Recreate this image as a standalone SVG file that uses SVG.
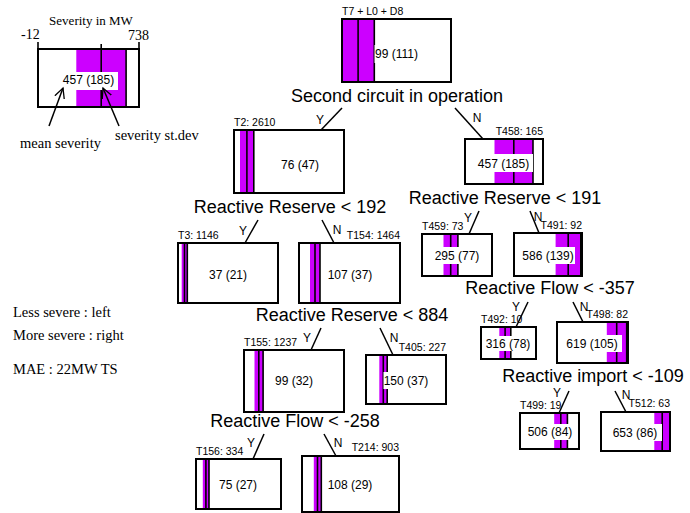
<svg xmlns="http://www.w3.org/2000/svg" width="690" height="513" viewBox="0 0 690 513">
<defs>
<style>
.box{fill:none;stroke:#000;stroke-width:2}
.band{fill:#cc00ff;stroke:none}
.ln{stroke:#000;stroke-width:1.6}
.lbl{fill:#fff;stroke:none}
.val{font-family:"Liberation Sans",Arial,sans-serif;font-size:12px;fill:#000;text-anchor:middle}
.tag{font-family:"Liberation Sans",Arial,sans-serif;font-size:10.5px;fill:#000}
.split{font-family:"Liberation Sans",Arial,sans-serif;font-size:18px;fill:#000;text-anchor:middle}
.yn{font-family:"Liberation Sans",Arial,sans-serif;font-size:12px;fill:#000;text-anchor:middle}
.ser{font-family:"Liberation Serif","Times New Roman",serif;fill:#000}
.conn{stroke:#000;stroke-width:1.5;fill:none}
</style>
<marker id="open" markerWidth="12" markerHeight="12" refX="10" refY="6" orient="auto" markerUnits="userSpaceOnUse">
<path d="M0,1 L10,6 L0,11" fill="none" stroke="#000" stroke-width="1.3"/>
</marker>
</defs>
<rect width="690" height="513" fill="#fff"/>

<g id="legend">
<text class="ser" x="91" y="25" font-size="13" text-anchor="middle">Severity in MW</text>
<text class="ser" x="21" y="39" font-size="14">-12</text>
<text class="ser" x="128" y="40" font-size="14">738</text>
<line class="ln" x1="38" y1="42" x2="38" y2="49"/>
<line class="ln" x1="139" y1="42" x2="139" y2="49"/>
<line class="ln" x1="101.2" y1="44" x2="101.2" y2="49"/>
<rect class="band" x="76.3" y="49" width="49.8" height="58"/>
<line class="ln" x1="101.2" y1="49" x2="101.2" y2="107"/>
<line class="ln" x1="126.1" y1="49" x2="126.1" y2="107"/>
<rect class="box" x="38" y="49" width="101" height="58"/>
<rect class="lbl" x="58" y="72" width="60" height="18"/>
<text class="val" x="88.5" y="84">457 (185)</text>
<line class="conn" x1="49" y1="126" x2="63" y2="88" marker-end="url(#open)"/>
<line class="conn" x1="119" y1="126" x2="103" y2="88" marker-end="url(#open)"/>
<text class="ser" x="20" y="148" font-size="14.5">mean severity</text>
<text class="ser" x="115" y="140" font-size="14.5">severity st.dev</text>
</g>

<g id="notes">
<text class="ser" x="13" y="317" font-size="14.5">Less severe : left</text>
<text class="ser" x="13" y="340" font-size="14.5">More severe : right</text>
<text class="ser" x="13" y="374" font-size="14.5">MAE : 22MW TS</text>
</g>

<g id="connectors">
<line class="conn" x1="342" y1="108" x2="321" y2="130"/>
<text class="yn" x="320" y="124">Y</text>
<line class="conn" x1="455" y1="108" x2="483" y2="139"/>
<text class="yn" x="477" y="122">N</text>
<line class="conn" x1="258" y1="220" x2="245" y2="243"/>
<text class="yn" x="243" y="235">Y</text>
<line class="conn" x1="322" y1="220" x2="334" y2="243"/>
<text class="yn" x="337" y="234">N</text>
<line class="conn" x1="479" y1="211" x2="469" y2="234"/>
<text class="yn" x="468" y="222">Y</text>
<line class="conn" x1="530" y1="211" x2="539" y2="233"/>
<text class="yn" x="538" y="221">N</text>
<line class="conn" x1="321" y1="328" x2="311" y2="350"/>
<text class="yn" x="307" y="342">Y</text>
<line class="conn" x1="380" y1="328" x2="393" y2="355"/>
<text class="yn" x="394" y="342">N</text>
<line class="conn" x1="528" y1="302" x2="516" y2="327"/>
<text class="yn" x="516" y="311">Y</text>
<line class="conn" x1="573" y1="302" x2="583" y2="322"/>
<text class="yn" x="584" y="311">N</text>
<line class="conn" x1="264" y1="434" x2="253" y2="459"/>
<text class="yn" x="251" y="447">Y</text>
<line class="conn" x1="324" y1="434" x2="336" y2="456"/>
<text class="yn" x="338" y="447">N</text>
<line class="conn" x1="569" y1="391" x2="559" y2="413"/>
<text class="yn" x="557" y="397">Y</text>
<line class="conn" x1="615" y1="391" x2="626" y2="412"/>
<text class="yn" x="626" y="399">N</text>
</g>

<g id="root">
<text class="tag" x="342" y="15">T7 + L0 + D8</text>
<rect class="band" x="342" y="19" width="32.3" height="63"/>
<line class="ln" x1="358.1" y1="19" x2="358.1" y2="82"/>
<line class="ln" x1="374.3" y1="19" x2="374.3" y2="82"/>
<rect class="box" x="342" y="19" width="109" height="63"/>
<rect class="lbl" x="374.5" y="45" width="44" height="18"/>
<text class="val" x="396.5" y="58">99 (111)</text>
<text class="split" x="397" y="102">Second circuit in operation</text>
</g>

<g id="T2">
<text class="tag" x="234" y="126">T2: 2610</text>
<rect class="band" x="240" y="130" width="13.8" height="63"/>
<line class="ln" x1="246.9" y1="130" x2="246.9" y2="193"/>
<line class="ln" x1="253.8" y1="130" x2="253.8" y2="193"/>
<rect class="box" x="234" y="130" width="110" height="63"/>
<text class="val" x="300" y="169">76 (47)</text>
<text class="split" x="290" y="213">Reactive Reserve &lt; 192</text>
</g>

<g id="T458">
<text class="tag" x="543" y="135" text-anchor="end">T458: 165</text>
<rect class="band" x="494.5" y="139" width="38.5" height="45"/>
<line class="ln" x1="513.8" y1="139" x2="513.8" y2="184"/>
<line class="ln" x1="533" y1="139" x2="533" y2="184"/>
<rect class="box" x="465" y="139" width="78" height="45"/>
<rect class="lbl" x="474" y="154" width="59" height="18"/>
<text class="val" x="503.5" y="168">457 (185)</text>
<text class="split" x="505" y="204">Reactive Reserve &lt; 191</text>
</g>

<g id="T3">
<text class="tag" x="178" y="239">T3: 1146</text>
<rect class="band" x="181.7" y="243" width="5.6" height="60"/>
<line class="ln" x1="184.5" y1="243" x2="184.5" y2="303"/>
<line class="ln" x1="187.3" y1="243" x2="187.3" y2="303"/>
<rect class="box" x="178" y="243" width="100" height="60"/>
<text class="val" x="228" y="279">37 (21)</text>
</g>

<g id="T154">
<text class="tag" x="400" y="239" text-anchor="end">T154: 1464</text>
<rect class="band" x="310" y="243" width="10" height="60"/>
<line class="ln" x1="315" y1="243" x2="315" y2="303"/>
<line class="ln" x1="320" y1="243" x2="320" y2="303"/>
<rect class="box" x="299" y="243" width="101" height="60"/>
<text class="val" x="350" y="279">107 (37)</text>
<text class="split" x="352" y="321">Reactive Reserve &lt; 884</text>
</g>

<g id="T459">
<text class="tag" x="422" y="230">T459: 73</text>
<rect class="band" x="443.5" y="234" width="14.4" height="42"/>
<line class="ln" x1="450.7" y1="234" x2="450.7" y2="276"/>
<line class="ln" x1="457.9" y1="234" x2="457.9" y2="276"/>
<rect class="box" x="422" y="234" width="70" height="42"/>
<rect class="lbl" x="435" y="247" width="44" height="17"/>
<text class="val" x="457" y="260">295 (77)</text>
</g>

<g id="T491">
<text class="tag" x="582" y="229" text-anchor="end">T491: 92</text>
<rect class="band" x="555.6" y="233" width="25.2" height="43"/>
<line class="ln" x1="568.2" y1="233" x2="568.2" y2="276"/>
<line class="ln" x1="580.8" y1="233" x2="580.8" y2="276"/>
<rect class="box" x="514" y="233" width="68" height="43"/>
<rect class="lbl" x="520" y="247" width="55" height="17"/>
<text class="val" x="548" y="260">586 (139)</text>
<text class="split" x="550" y="294">Reactive Flow &lt; -357</text>
</g>

<g id="T155">
<text class="tag" x="244" y="346">T155: 1237</text>
<rect class="band" x="254.5" y="350" width="8.6" height="62"/>
<line class="ln" x1="258.8" y1="350" x2="258.8" y2="412"/>
<line class="ln" x1="263.1" y1="350" x2="263.1" y2="412"/>
<rect class="box" x="244" y="350" width="100" height="62"/>
<text class="val" x="294" y="385">99 (32)</text>
<text class="split" x="295" y="427">Reactive Flow &lt; -258</text>
</g>

<g id="T405">
<text class="tag" x="446" y="351" text-anchor="end">T405: 227</text>
<rect class="band" x="379.3" y="355" width="7.9" height="49"/>
<line class="ln" x1="383.3" y1="355" x2="383.3" y2="404"/>
<line class="ln" x1="387.2" y1="355" x2="387.2" y2="404"/>
<rect class="box" x="366" y="355" width="80" height="49"/>
<rect class="lbl" x="383.5" y="372" width="45" height="17"/>
<text class="val" x="406" y="385">150 (37)</text>
</g>

<g id="T492">
<text class="tag" x="481" y="323">T492: 10</text>
<rect class="band" x="499.3" y="327" width="11.5" height="32"/>
<line class="ln" x1="505.1" y1="327" x2="505.1" y2="359"/>
<line class="ln" x1="510.8" y1="327" x2="510.8" y2="359"/>
<rect class="box" x="481" y="327" width="55" height="32"/>
<rect class="lbl" x="485.5" y="336" width="45" height="15"/>
<text class="val" x="508" y="348">316 (78)</text>
</g>

<g id="T498">
<text class="tag" x="628" y="318" text-anchor="end">T498: 82</text>
<rect class="band" x="606.8" y="322" width="19.9" height="41"/>
<line class="ln" x1="616.7" y1="322" x2="616.7" y2="363"/>
<line class="ln" x1="626.7" y1="322" x2="626.7" y2="363"/>
<rect class="box" x="557" y="322" width="71" height="41"/>
<rect class="lbl" x="562" y="335" width="60" height="17"/>
<text class="val" x="592" y="348">619 (105)</text>
<text class="split" x="593" y="382">Reactive import &lt; -109</text>
</g>

<g id="T156">
<text class="tag" x="196" y="455">T156: 334</text>
<rect class="band" x="202.8" y="459" width="6.2" height="50"/>
<line class="ln" x1="205.9" y1="459" x2="205.9" y2="509"/>
<line class="ln" x1="209" y1="459" x2="209" y2="509"/>
<rect class="box" x="196" y="459" width="85" height="50"/>
<text class="val" x="238" y="489">75 (27)</text>
</g>

<g id="T214">
<text class="tag" x="399" y="451" text-anchor="end">T214: 903</text>
<rect class="band" x="313.8" y="456" width="7.5" height="56"/>
<line class="ln" x1="317.5" y1="456" x2="317.5" y2="512"/>
<line class="ln" x1="321.3" y1="456" x2="321.3" y2="512"/>
<rect class="box" x="302" y="456" width="97" height="56"/>
<text class="val" x="350" y="489">108 (29)</text>
</g>

<g id="T499">
<text class="tag" x="520" y="409">T499: 19</text>
<rect class="band" x="554.2" y="413" width="13.2" height="36"/>
<line class="ln" x1="560.8" y1="413" x2="560.8" y2="449"/>
<line class="ln" x1="567.4" y1="413" x2="567.4" y2="449"/>
<rect class="box" x="520" y="413" width="59" height="36"/>
<rect class="lbl" x="527.5" y="424" width="45" height="16"/>
<text class="val" x="550" y="436">506 (84)</text>
</g>

<g id="T512">
<text class="tag" x="670" y="407" text-anchor="end">T512: 63</text>
<rect class="band" x="654.3" y="412" width="15.7" height="39"/>
<line class="ln" x1="662.2" y1="412" x2="662.2" y2="451"/>
<rect class="box" x="601" y="412" width="69" height="39"/>
<rect class="lbl" x="612" y="424" width="50" height="17"/>
<text class="val" x="635" y="437">653 (86)</text>
</g>
</svg>
